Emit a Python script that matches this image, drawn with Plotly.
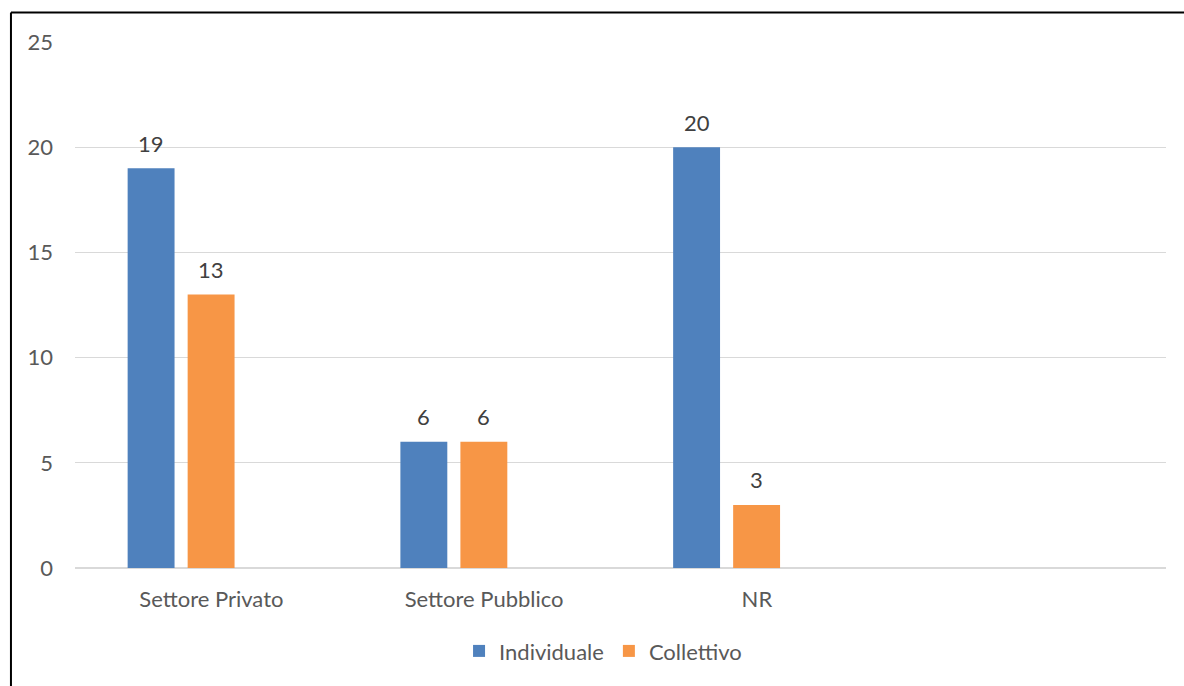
import plotly.graph_objects as go

# Category labels and counts per type of contract
categories = ["Settore Privato", "Settore Pubblico", "NR"]
individuale = [19, 6, 20]
collettivo = [13, 6, 3]
y_ticks = [0, 5, 10, 15, 20, 25]

BLUE = "#4F81BD"
ORANGE = "#F79646"
FONT = "Lato"
FS = 22

# plot area geometry (pixels) used to place value labels over their bars
PLOT_W = 1184 - 75 - 18
N_SLOTS = 4
SLOT_PX = PLOT_W / N_SLOTS
BAR_W = 0.172
OFFSETS = {"Individuale": -0.307, "Collettivo": -0.087}

fig = go.Figure()
for name, values, color in [("Individuale", individuale, BLUE),
                            ("Collettivo", collettivo, ORANGE)]:
    fig.add_trace(go.Bar(
        x=categories, y=values, name=name,
        marker=dict(color=color, line=dict(width=0)),
        width=BAR_W, offset=OFFSETS[name],
        hoverinfo="x+y+name",
    ))
    shift = (OFFSETS[name] + BAR_W / 2) * SLOT_PX
    for cat, v in zip(categories, values):
        fig.add_annotation(
            x=cat, y=v, text=str(v), showarrow=False,
            xshift=shift, yshift=25, yanchor="middle",
            font=dict(color="#404040", size=FS, family=FONT),
        )

fig.update_layout(
    width=1184, height=686,
    margin=dict(l=75, r=18, t=42, b=118),
    paper_bgcolor="white", plot_bgcolor="white",
    font=dict(family=FONT, color="#595959", size=FS),
    barmode="overlay",
    showlegend=True,
    legend=dict(
        orientation="h", x=0.484, xanchor="center",
        y=-0.158, yanchor="middle",
        font=dict(size=FS, color="#595959", family=FONT),
        itemwidth=30, traceorder="normal",
    ),
    xaxis=dict(
        type="category", range=[-0.5, 3.5],
        showgrid=False, showline=False, zeroline=False,
        ticks="", ticklabelstandoff=16,
        tickfont=dict(size=FS, color="#595959"),
    ),
    yaxis=dict(
        range=[0, 25], tickvals=y_ticks,
        showgrid=True, gridcolor="#D9D9D9", gridwidth=1,
        zeroline=True, zerolinecolor="#D9D9D9", zerolinewidth=1.5,
        showline=False, ticks="", ticklabelstandoff=21,
        tickfont=dict(size=FS, color="#595959"),
    ),
    shapes=[
        # outer frame: top and left edges
        dict(type="line", xref="paper", yref="paper",
             x0=-0.0587, x1=1.03, y0=1.0561, y1=1.0561,
             line=dict(color="black", width=2)),
        dict(type="line", xref="paper", yref="paper",
             x0=-0.0587, x1=-0.0587, y0=1.0561, y1=-0.26,
             line=dict(color="black", width=2)),
    ],
)

fig.write_html("out.html")
